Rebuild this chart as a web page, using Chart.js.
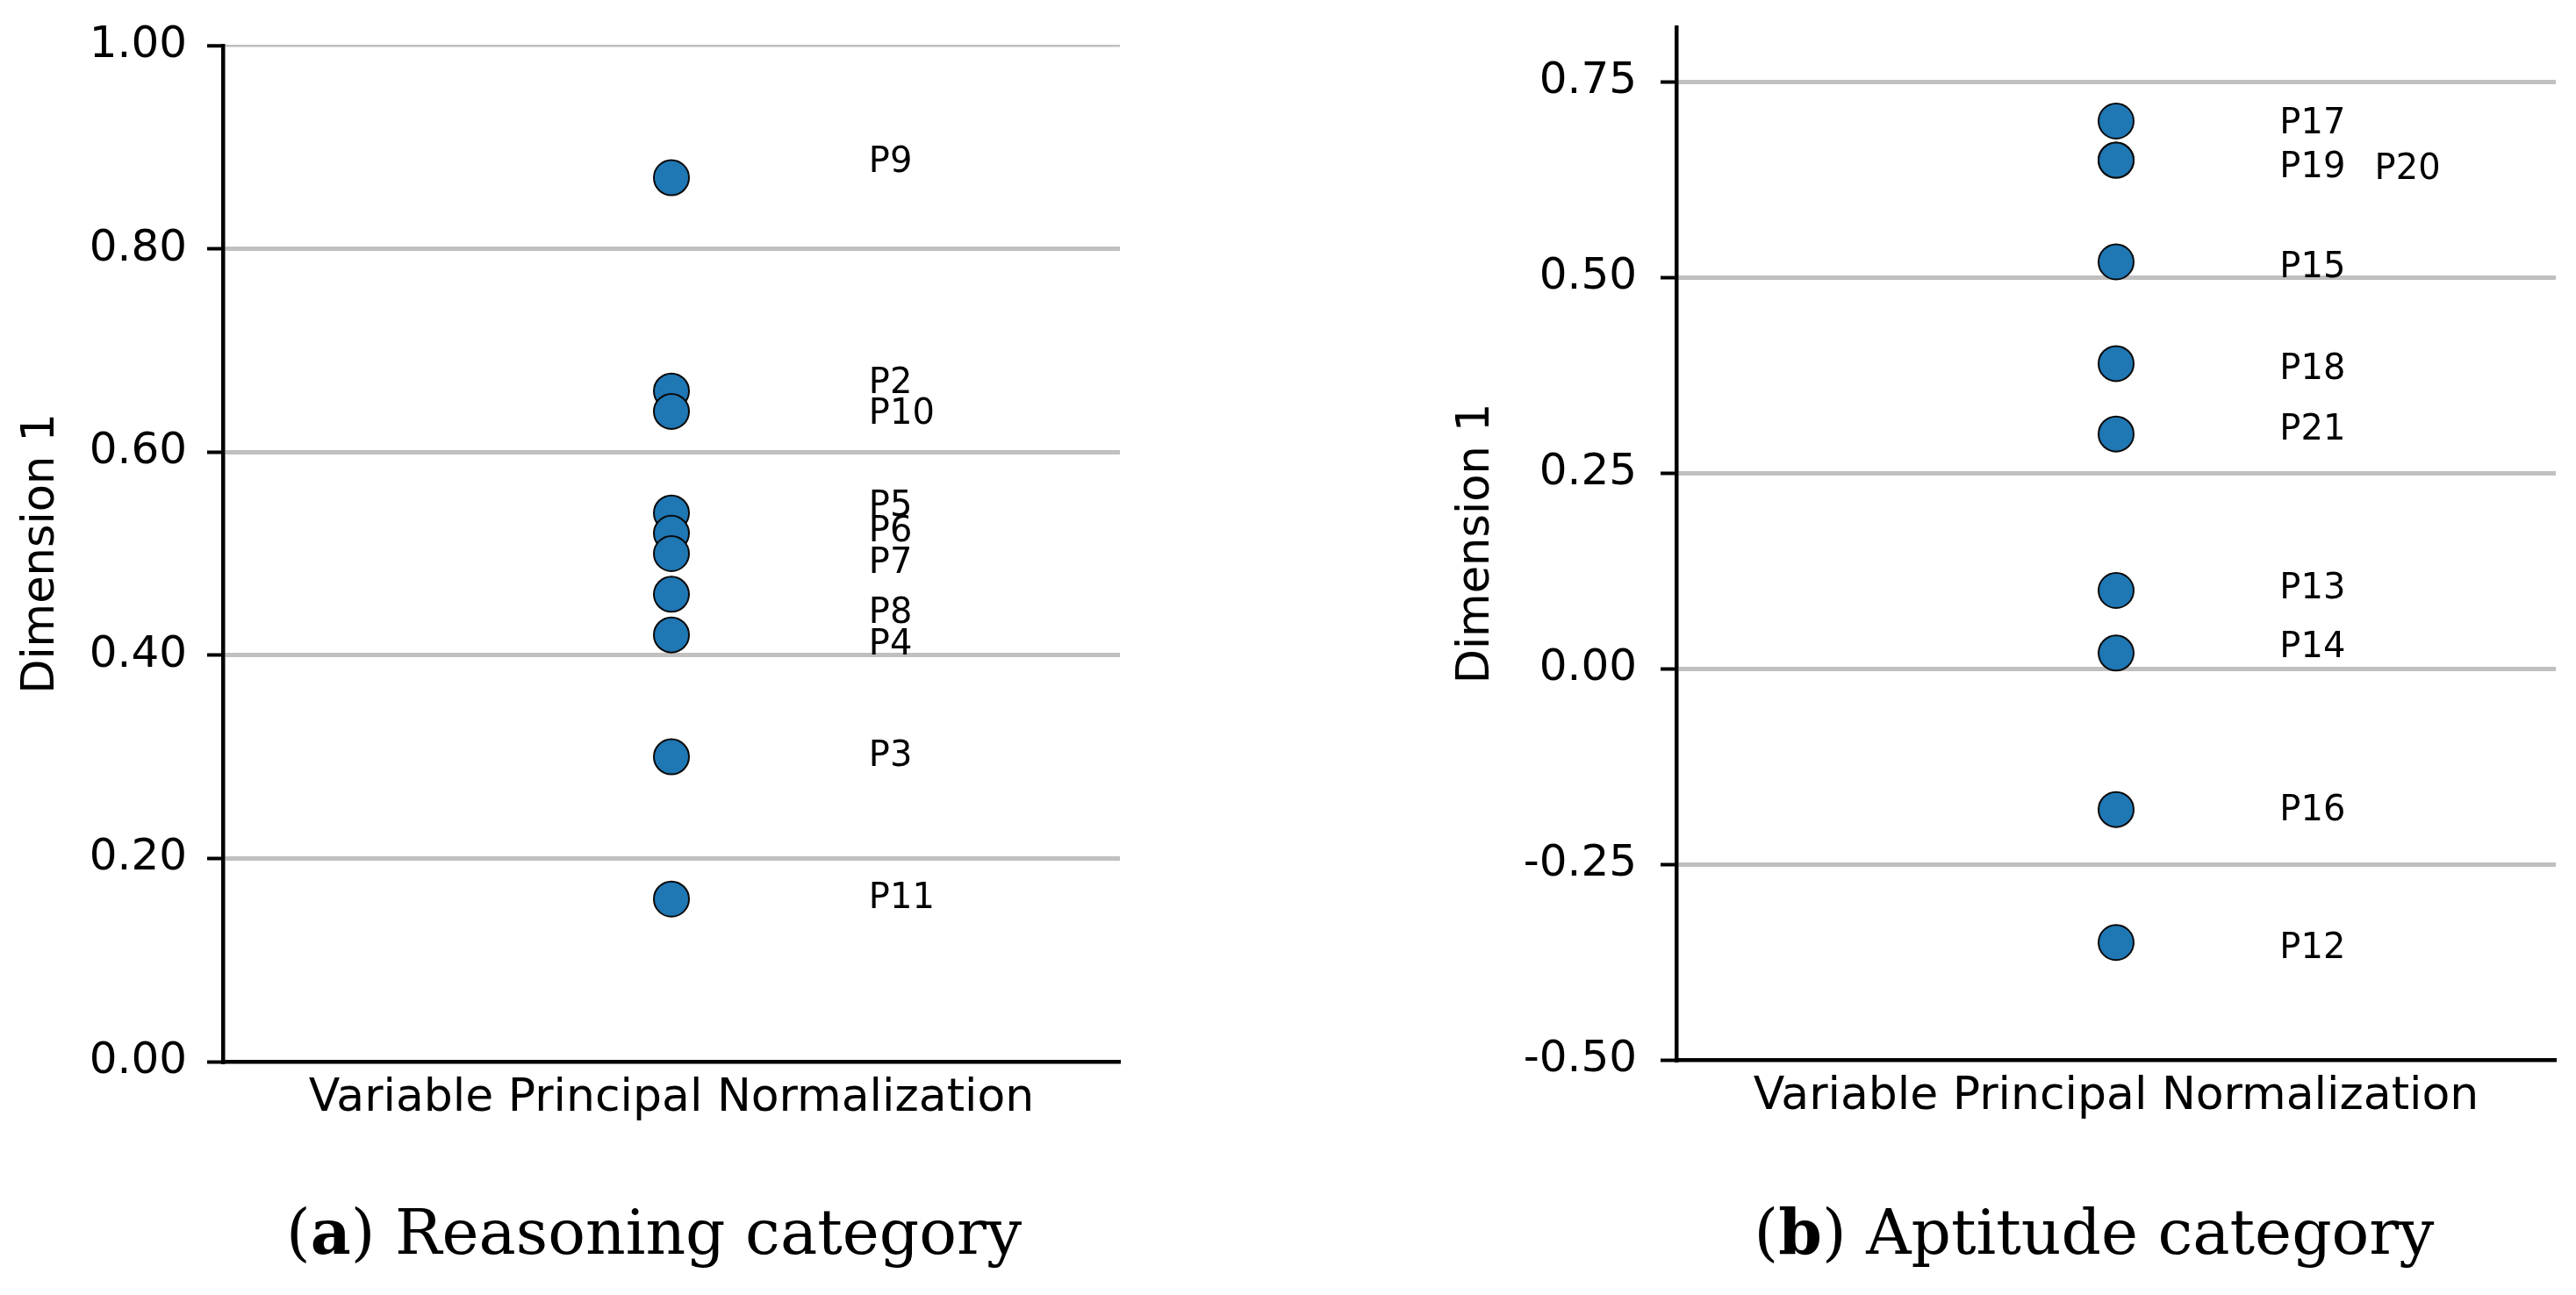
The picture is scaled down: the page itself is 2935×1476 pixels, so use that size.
<!DOCTYPE html>
<html>
<head>
<meta charset="utf-8">
<script src="https://cdn.jsdelivr.net/npm/chart.js@4"></script>
<style>
  body { margin: 0; background: #fff; width: 2935px; height: 1476px; position: relative; overflow: hidden; }
  .box { position: absolute; top: 0; height: 1300px; }
  .cap { position: absolute; top: 1369px; width: 1200px; text-align: center; font-family: "DejaVu Serif", serif; font-size: 71px; line-height: 1; color: #000; }
</style>
</head>
<body>
<div class="box" style="left:0;width:1300px"><canvas id="chartA"></canvas></div>
<div class="box" style="left:1630px;width:1305px"><canvas id="chartB"></canvas></div>
<div class="cap" style="left:145px">(<b>a</b>) Reasoning category</div>
<div class="cap" style="left:1786px">(<b>b</b>) Aptitude category</div>
<script>
// reasoning category (a)
const namesA = ['P9', 'P2', 'P10', 'P5', 'P6', 'P7', 'P8', 'P4', 'P3', 'P11'];
const valuesA = [0.87, 0.66, 0.64, 0.54, 0.52, 0.50, 0.46, 0.42, 0.30, 0.16];
const labelYA = [0.885, 0.667, 0.637, 0.546, 0.521, 0.490, 0.441, 0.410, 0.30, 0.16];
const ticksA = [0, 0.2, 0.4, 0.6, 0.8, 1.0];

// aptitude category (b)
const namesB = ['P17', 'P19', 'P20', 'P15', 'P18', 'P21', 'P13', 'P14', 'P16', 'P12'];
const valuesB = [0.70, 0.65, 0.65, 0.52, 0.39, 0.30, 0.10, 0.02, -0.18, -0.35];
const labelYB = [0.696, 0.640, 0.638, 0.512, 0.382, 0.305, 0.102, 0.026, -0.182, -0.358];
const ticksB = [-0.5, -0.25, 0, 0.25, 0.5, 0.75];

const category = 'Variable Principal Normalization';

// label column positions (x in data units, category at 0)
const labelXA = [0.22, 0.22, 0.22, 0.22, 0.22, 0.22, 0.22, 0.22, 0.22, 0.22];
const labelXB = [0.186, 0.186, 0.294, 0.186, 0.186, 0.186, 0.186, 0.186, 0.186, 0.186];

const FONT = 'DejaVu Sans';

// draws the point names next to the markers
const pointNames = {
  id: 'pointNames',
  afterDatasetsDraw(chart, args, opts) {
    const ctx = chart.ctx;
    const xs = chart.scales.x, ys = chart.scales.y;
    ctx.save();
    ctx.font = '40px "' + FONT + '"';
    ctx.fillStyle = '#000';
    ctx.textAlign = 'left';
    ctx.textBaseline = 'middle';
    opts.names.forEach((n, i) => {
      ctx.fillText(n, xs.getPixelForValue(opts.lx[i]), ys.getPixelForValue(opts.ly[i]));
    });
    ctx.restore();
  }
};

function makeChart(id, names, values, lx, ly, yTicks, yMin, yMax, cfg) {
  const ctx = document.getElementById(id).getContext('2d');
  return new Chart(ctx, {
    type: 'scatter',
    data: {
      datasets: [{
        data: values.map(v => ({ x: 0, y: v })),
        backgroundColor: '#1f77b4',
        borderColor: '#0a0a0a',
        pointRadius: 20,
        pointBorderWidth: 2,
        pointHoverRadius: 20
      }]
    },
    plugins: [pointNames],
    options: {
      responsive: false,
      animation: false,
      devicePixelRatio: 1,
      events: [],
      layout: { padding: { top: cfg.top, right: cfg.right, left: 0, bottom: 0 } },
      plugins: {
        legend: { display: false },
        tooltip: { enabled: false },
        pointNames: { names: names, lx: lx, ly: ly }
      },
      scales: {
        x: {
          type: 'linear',
          min: -0.5,
          max: 0.5,
          afterBuildTicks: s => { s.ticks = [{ value: 0 }]; },
          afterFit: s => { s.height = cfg.xh; s.paddingLeft = 0; s.paddingRight = 0; },
          ticks: {
            callback: () => category,
            color: '#000',
            font: { family: FONT, size: 52 },
            padding: 11,
            maxRotation: 0
          },
          grid: { display: false, drawTicks: false },
          border: { display: true, color: '#000', width: 4.5 }
        },
        y: {
          type: 'linear',
          min: yMin,
          max: yMax,
          afterBuildTicks: s => { s.ticks = yTicks.map(v => ({ value: v })); },
          afterFit: s => { s.width = cfg.yw; s.paddingTop = 0; s.paddingBottom = 0; },
          ticks: {
            callback: v => v.toFixed(2),
            color: '#000',
            font: { family: FONT, size: 50 },
            padding: cfg.tickPad
          },
          grid: {
            color: c => (c.tick && c.tick.value === yMin) ? 'rgba(0,0,0,0)' : '#c0c0c0',
            lineWidth: c => (c.tick && c.tick.value === yMax) ? 2.5 : 5,
            tickColor: '#000',
            tickWidth: 4,
            tickLength: 18
          },
          border: { display: true, color: '#000', width: 4.5 },
          title: {
            display: true,
            text: 'Dimension 1',
            color: '#000',
            font: { family: FONT, size: 51 },
            padding: { top: cfg.titlePad, bottom: 0 }
          }
        }
      }
    }
  });
}

document.getElementById('chartA').width = 1300;
document.getElementById('chartA').height = 1300;
document.getElementById('chartB').width = 1305;
document.getElementById('chartB').height = 1300;

makeChart('chartA', namesA, valuesA, labelXA, labelYA, ticksA, 0, 1.0,
  { top: 52, right: 24, xh: 90, yw: 254, tickPad: 23, titlePad: 17 });
makeChart('chartB', namesB, valuesB, labelXB, labelYB, ticksB, -0.5, 0.82,
  { top: 31, right: 23, xh: 92, yw: 280, tickPad: 27, titlePad: 22 });
</script>
</body>
</html>
